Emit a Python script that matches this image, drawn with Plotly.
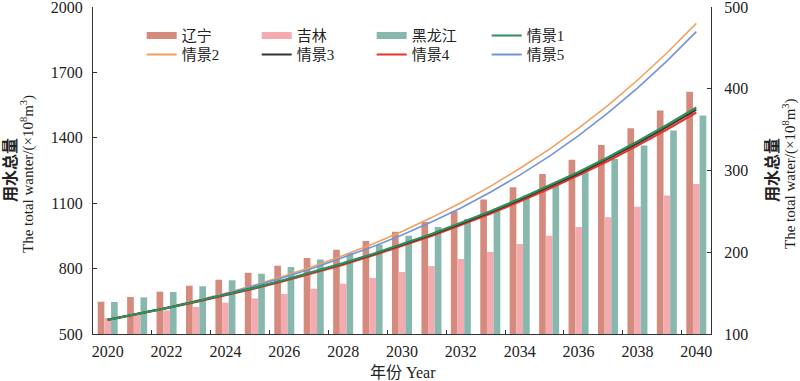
import plotly.graph_objects as go

years = list(range(2020, 2041))
liaoning = [139.5, 145.3, 151.8, 159.1, 166.5, 175.0, 183.6, 193.0, 203.2, 213.8, 225.2,
            237.1, 250.1, 264.4, 279.4, 295.8, 313.3, 331.3, 351.7, 373.3, 396.2]
jilin = [119.6, 124.5, 128.9, 133.0, 138.3, 143.6, 149.0, 155.4, 161.6, 168.5, 175.9,
         183.2, 191.8, 200.4, 210.2, 220.3, 231.0, 242.7, 255.8, 269.3, 283.6]
heilongjiang = [139.2, 144.8, 151.4, 158.3, 165.6, 173.8, 182.0, 191.0, 199.1, 209.3, 220.3,
                231.0, 240.8, 253.4, 269.3, 282.7, 297.8, 314.2, 330.5, 348.8, 367.2]

s1 = [565, 591, 619, 649, 680, 713, 748, 786, 825, 867, 912,
      959, 1010, 1063, 1120, 1180, 1243, 1311, 1383, 1459, 1539]
s2 = [565, 592, 621, 653, 687, 725, 766, 811, 860, 913, 970,
      1034, 1102, 1177, 1259, 1347, 1444, 1549, 1664, 1789, 1925]
s3 = [565, 591, 619, 649, 680, 712, 747, 784, 823, 864, 909,
      955, 1006, 1058, 1115, 1174, 1236, 1304, 1375, 1450, 1529]
s4 = [565, 591, 618, 647, 677, 709, 743, 780, 818, 860, 904,
      950, 1000, 1052, 1108, 1166, 1228, 1294, 1364, 1438, 1516]
s5 = [565, 592, 620, 651, 684, 721, 760, 803, 850, 900, 954,
      1014, 1078, 1150, 1229, 1315, 1410, 1514, 1628, 1752, 1887]

left_ticks = [500, 800, 1100, 1400, 1700, 2000]
right_ticks = [100, 200, 300, 400, 500]
x_labels = [2020, 2022, 2024, 2026, 2028, 2030, 2032, 2034, 2036, 2038, 2040]
x_minor = [2021.5, 2023.5, 2025.5, 2027.5, 2029.5, 2031.5, 2033.5, 2035.5, 2037.5, 2039.5]

title_cn = "用水总量"
title_en_left = "The total wanter/(×10<sup>8</sup>m<sup>3</sup>)"
title_en_right = "The total water/(×10<sup>8</sup>m<sup>3</sup>)"
title_x = "年份 Year"

C_L = "#d48a7c"
C_J = "#f3abb0"
C_H = "#88b8ad"
C_S1 = "#2f8f5b"
C_S2 = "#f0a060"
C_S3 = "#3a3030"
C_S4 = "#e8352a"
C_S5 = "#6f95d8"

FONT = "Liberation Serif, 'Noto Sans CJK SC', serif"
AX = "#333333"

fig = go.Figure()

for name, vals, col in [("辽宁", liaoning, C_L), ("吉林", jilin, C_J), ("黑龙江", heilongjiang, C_H)]:
    fig.add_trace(go.Bar(x=years, y=vals, name=name, marker=dict(color=col, line=dict(width=0)),
                         showlegend=False, yaxis="y"))

line_defs = [
    ("情景2", s2, C_S2, 1.6),
    ("情景5", s5, C_S5, 1.6),
    ("情景4", s4, C_S4, 2.2),
    ("情景3", s3, C_S3, 2.0),
    ("情景1", s1, C_S1, 2.2),
]
for name, vals, col, w in line_defs:
    fig.add_trace(go.Scatter(x=years, y=vals, mode="lines", name=name,
                             line=dict(color=col, width=w), yaxis="y2",
                             showlegend=False))

legend_items = [
    ("辽宁", C_L, 7, "legend"), ("吉林", C_J, 7, "legend"), ("黑龙江", C_H, 7, "legend"),
    ("情景1", C_S1, 2, "legend"),
    ("情景2", C_S2, 2, "legend2"), ("情景3", C_S3, 2, "legend2"), ("情景4", C_S4, 2, "legend2"),
    ("情景5", C_S5, 2, "legend2"),
]
for i, (name, col, w, lg) in enumerate(legend_items):
    fig.add_trace(go.Scatter(x=[None], y=[None], mode="lines", name=name,
                             line=dict(color=col, width=w), legend=lg, legendrank=i + 1,
                             yaxis="y2"))

legend_common = dict(orientation="h", xanchor="left", yanchor="middle",
                     font=dict(family=FONT, size=15, color="#222"),
                     bgcolor="rgba(0,0,0,0)", entrywidth=70, entrywidthmode="pixels",
                     tracegroupgap=0, itemsizing="trace")

tickfont = dict(family=FONT, size=16, color="#222")

L, R, T, B = 93, 89, 7, 47
W, H = 800, 381
PW, PH = W - L - R, H - T - B


def px_x(px):
    return (px - L) / PW


def px_y(py):
    return (H - B - py) / PH


annotations = [
    dict(text="<b>" + title_cn + "</b>", x=px_x(10), y=px_y(170), font=dict(family=FONT, size=16),
         textangle=-90),
    dict(text=title_en_left, x=px_x(27), y=px_y(174), font=dict(family=FONT, size=15),
         textangle=-90),
    dict(text="<b>" + title_cn + "</b>", x=px_x(772), y=px_y(170), font=dict(family=FONT, size=16),
         textangle=-90),
    dict(text=title_en_right, x=px_x(789), y=px_y(174), font=dict(family=FONT, size=15),
         textangle=-90),
    dict(text=title_x, x=px_x(403), y=px_y(372), font=dict(family=FONT, size=16), textangle=0),
]
for a in annotations:
    a.update(xref="paper", yref="paper", showarrow=False,
             xanchor="center", yanchor="middle")

fig.update_layout(
    width=W, height=H,
    margin=dict(l=L, r=R, t=T, b=B),
    paper_bgcolor="white", plot_bgcolor="white",
    barmode="group", bargap=0.32, bargroupgap=0,
    font=dict(family=FONT, size=16, color="#222"),
    legend=dict(x=0.0788, y=0.912, **legend_common),
    legend2=dict(x=0.0788, y=0.854, **legend_common),
    annotations=annotations,
    xaxis=dict(range=[2019.5, 2040.5], tickmode="array", tickvals=x_labels,
               ticks="", showline=True, linecolor=AX, linewidth=1.3, showgrid=False,
               zeroline=False, tickfont=tickfont, automargin=False, ticklabelstandoff=3,
               minor=dict(tickmode="array", tickvals=x_minor, ticks="inside", ticklen=4,
                          tickcolor=AX, tickwidth=1.2, showgrid=False)),
    yaxis=dict(range=[100, 500], side="right", tickmode="array", tickvals=right_ticks,
               ticks="inside", ticklen=4, tickcolor=AX, showline=True, linecolor=AX,
               linewidth=1.3, showgrid=False, zeroline=False, automargin=False,
               ticklabeloverflow="allow", tickfont=tickfont, ticklabelstandoff=9),
    yaxis2=dict(range=[500, 2000], side="left", overlaying="y", tickmode="array",
                tickvals=left_ticks, ticks="inside", ticklen=4, tickcolor=AX, showline=True,
                linecolor=AX, linewidth=1.3, showgrid=False, zeroline=False, automargin=False,
                ticklabeloverflow="allow", tickfont=tickfont, ticklabelstandoff=6),
)

fig.write_html(
    "out.html",
    config={"displayModeBar": False},
    post_script="document.body.style.margin='0';document.documentElement.style.overflow='hidden';",
)
